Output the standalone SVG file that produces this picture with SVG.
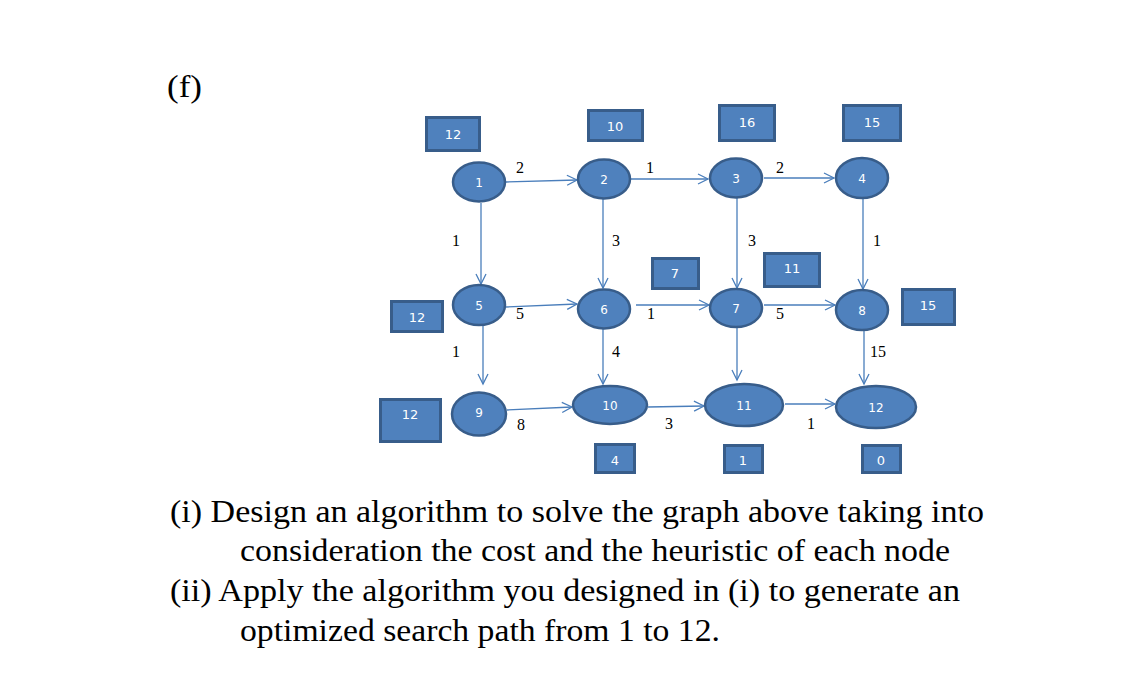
<svg xmlns="http://www.w3.org/2000/svg" width="1125" height="677" viewBox="0 0 1125 677">
<style>
.nd{fill:#4f81bd;stroke:#385d8a;stroke-width:2.5}
.bx{fill:#4f81bd;stroke:#385d8a;stroke-width:3}
.wt{fill:#ffffff;font-family:"DejaVu Sans",Verdana,sans-serif;font-size:13px;text-anchor:middle;dominant-baseline:central}
.nt{fill:#ffffff;font-family:"DejaVu Sans",Verdana,sans-serif;font-size:12px;text-anchor:middle;dominant-baseline:central}
.el{fill:#000000;font-family:"Liberation Serif","Times New Roman",serif;font-size:16px;text-anchor:middle;dominant-baseline:central}
.tx{fill:#000000;font-family:"Liberation Serif","Times New Roman",serif;font-size:31px}
.cn{stroke:#4a7ebb;stroke-width:1.3;fill:none;marker-end:url(#ar)}
</style>
<defs>
<marker id="ar" markerUnits="userSpaceOnUse" markerWidth="14" markerHeight="14" refX="11" refY="6" orient="auto">
<path d="M1,1 L11,6 L1,11" fill="none" stroke="#4a7ebb" stroke-width="1.3"/>
</marker>
</defs>
<rect width="1125" height="677" fill="#ffffff"/>
<text class="tx" x="167" y="97" textLength="35" lengthAdjust="spacingAndGlyphs">(f)</text>

<g id="connectors">
<line class="cn" x1="506" y1="182" x2="577" y2="180"/>
<line class="cn" x1="631" y1="179" x2="708" y2="179"/>
<line class="cn" x1="764" y1="178" x2="834" y2="178"/>
<line class="cn" x1="481" y1="203" x2="481" y2="284"/>
<line class="cn" x1="603" y1="199" x2="603" y2="288"/>
<line class="cn" x1="737" y1="198" x2="737" y2="288"/>
<line class="cn" x1="863" y1="199" x2="863" y2="289"/>
<line class="cn" x1="506" y1="307" x2="577" y2="304"/>
<line class="cn" x1="636" y1="305" x2="709" y2="305"/>
<line class="cn" x1="764" y1="305" x2="835" y2="305"/>
<line class="cn" x1="483" y1="326" x2="483" y2="384"/>
<line class="cn" x1="603" y1="329" x2="603" y2="384"/>
<line class="cn" x1="737" y1="327" x2="737" y2="380"/>
<line class="cn" x1="864" y1="331" x2="864" y2="384"/>
<line class="cn" x1="507" y1="410" x2="572" y2="407"/>
<line class="cn" x1="648" y1="407" x2="704" y2="406"/>
<line class="cn" x1="785" y1="404" x2="835" y2="404"/>
</g>

<g id="edge-labels">
<text class="el" x="520" y="167">2</text>
<text class="el" x="650" y="167">1</text>
<text class="el" x="780" y="167">2</text>
<text class="el" x="456" y="240">1</text>
<text class="el" x="616" y="240">3</text>
<text class="el" x="752" y="240">3</text>
<text class="el" x="877" y="240">1</text>
<text class="el" x="520" y="313">5</text>
<text class="el" x="651" y="313">1</text>
<text class="el" x="780" y="313">5</text>
<text class="el" x="456" y="351">1</text>
<text class="el" x="616" y="351">4</text>
<text class="el" x="878" y="351">15</text>
<text class="el" x="521" y="424">8</text>
<text class="el" x="669" y="423">3</text>
<text class="el" x="811" y="423">1</text>
</g>

<g id="node-1"><ellipse class="nd" cx="479" cy="182" rx="26" ry="19.5"/><text class="nt" x="479" y="183">1</text></g>
<g id="node-2"><ellipse class="nd" cx="604" cy="179" rx="26" ry="19.5"/><text class="nt" x="604" y="180">2</text></g>
<g id="node-3"><ellipse class="nd" cx="736" cy="178" rx="26" ry="19.5"/><text class="nt" x="736" y="179">3</text></g>
<g id="node-4"><ellipse class="nd" cx="862" cy="178" rx="26" ry="20"/><text class="nt" x="862" y="179">4</text></g>
<g id="node-5"><ellipse class="nd" cx="479" cy="305" rx="26" ry="20"/><text class="nt" x="479" y="306">5</text></g>
<g id="node-6"><ellipse class="nd" cx="604" cy="309" rx="26" ry="19.5"/><text class="nt" x="604" y="310">6</text></g>
<g id="node-7"><ellipse class="nd" cx="736" cy="308" rx="26" ry="19"/><text class="nt" x="736" y="309">7</text></g>
<g id="node-8"><ellipse class="nd" cx="862" cy="310" rx="26" ry="20"/><text class="nt" x="862" y="311">8</text></g>
<g id="node-9"><ellipse class="nd" cx="479" cy="414" rx="27" ry="21.5"/><text class="nt" x="479" y="413">9</text></g>
<g id="node-10"><ellipse class="nd" cx="610" cy="405" rx="37" ry="19"/><text class="nt" x="610" y="406">10</text></g>
<g id="node-11"><ellipse class="nd" cx="744" cy="405" rx="39" ry="21"/><text class="nt" x="744" y="406">11</text></g>
<g id="node-12"><ellipse class="nd" cx="876" cy="407" rx="40" ry="21"/><text class="nt" x="876" y="408">12</text></g>

<g id="h-1"><rect class="bx" x="426.5" y="117.5" width="53" height="33"/><text class="wt" x="453" y="134">12</text></g>
<g id="h-2"><rect class="bx" x="588.5" y="110.5" width="54" height="30"/><text class="wt" x="615" y="126">10</text></g>
<g id="h-3"><rect class="bx" x="719.5" y="105.5" width="55" height="35"/><text class="wt" x="747" y="122">16</text></g>
<g id="h-4"><rect class="bx" x="843.5" y="105.5" width="57" height="35"/><text class="wt" x="872" y="122">15</text></g>
<g id="h-5"><rect class="bx" x="391.5" y="301.5" width="51" height="30"/><text class="wt" x="417" y="317">12</text></g>
<g id="h-6"><rect class="bx" x="652.5" y="258.5" width="46" height="30"/><text class="wt" x="675" y="273">7</text></g>
<g id="h-7"><rect class="bx" x="764.5" y="253.5" width="55" height="33"/><text class="wt" x="792" y="268">11</text></g>
<g id="h-8"><rect class="bx" x="902.5" y="289.5" width="52" height="35"/><text class="wt" x="928" y="305">15</text></g>
<g id="h-9"><rect class="bx" x="380.5" y="399.5" width="60" height="42"/><text class="wt" x="410" y="414">12</text></g>
<g id="h-10"><rect class="bx" x="595.5" y="444.5" width="39" height="28"/><text class="wt" x="615" y="460">4</text></g>
<g id="h-11"><rect class="bx" x="724.5" y="445.5" width="38" height="27"/><text class="wt" x="743" y="460">1</text></g>
<g id="h-12"><rect class="bx" x="862.5" y="445.5" width="38" height="27"/><text class="wt" x="881" y="460">0</text></g>

<g id="question">
<text class="tx" x="170" y="522" textLength="814" lengthAdjust="spacingAndGlyphs">(i) Design an algorithm to solve the graph above taking into</text>
<text class="tx" x="240" y="561" textLength="710" lengthAdjust="spacingAndGlyphs">consideration the cost and the heuristic of each node</text>
<text class="tx" x="170" y="601" textLength="790" lengthAdjust="spacingAndGlyphs">(ii) Apply the algorithm you designed in (i) to generate an</text>
<text class="tx" x="240" y="641" textLength="480" lengthAdjust="spacingAndGlyphs">optimized search path from 1 to 12.</text>
</g>
</svg>
